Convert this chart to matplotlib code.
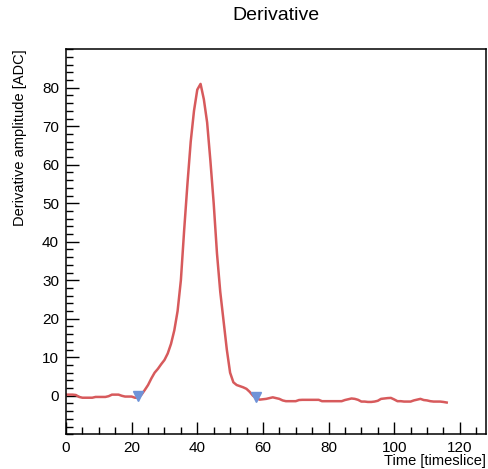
import numpy as np
import matplotlib
matplotlib.use("Agg")
import matplotlib.pyplot as plt
from matplotlib.ticker import MultipleLocator, FixedLocator

plt.rcParams["font.family"] = ["Liberation Sans", "DejaVu Sans"]

# derivative amplitude per timeslice (bins 0..116)
deriv = [
    0.3, 0.3, 0.3, 0.2, -0.3, -0.5, -0.5, -0.5, -0.5, -0.3,
    -0.3, -0.3, -0.3, -0.1, 0.3, 0.3, 0.3, 0.0, -0.2, -0.2,
    -0.2, -0.5, -0.5, 0.3, 1.5, 2.8, 4.5, 6.0, 7.0, 8.2,
    9.3, 11.0, 13.5, 17.0, 22.0, 30.0, 43.0, 55.0, 66.0, 74.0,
    79.5, 81.0, 77.0, 71.0, 61.0, 50.0, 37.0, 27.0, 19.5, 12.0,
    6.0, 3.5, 2.8, 2.5, 2.2, 1.8, 1.0, 0.0, -0.6, -1.0,
    -0.9, -0.8, -0.6, -0.4, -0.6, -0.8, -1.2, -1.4, -1.4, -1.4,
    -1.4, -1.1, -1.05, -1.05, -1.05, -1.05, -1.05, -1.05, -1.4, -1.4,
    -1.4, -1.4, -1.4, -1.4, -1.4, -1.1, -0.9, -0.7, -0.8, -1.05,
    -1.5, -1.5, -1.6, -1.6, -1.5, -1.3, -0.8, -0.7, -0.6, -0.55,
    -0.95, -1.4, -1.4, -1.5, -1.5, -1.5, -1.2, -1.0, -0.8, -1.1,
    -1.2, -1.4, -1.5, -1.5, -1.5, -1.6, -1.75,
]
time = np.arange(len(deriv))

# found start / end of the pulse
mark_t = [22, 58]
mark_y = [0.0, -0.3]

fig = plt.figure(figsize=(4.89, 4.69), dpi=100)
ax = fig.add_axes([0.135, 0.074, 0.859, 0.821])

ax.plot(time, deriv, color="#d75a5c", lw=1.8)
ax.plot(mark_t, mark_y, "v", color="#6f93d8", ms=7, zorder=3)

ax.set_xlim(0, 128)
ax.set_ylim(-10, 90)
ax.xaxis.set_major_locator(MultipleLocator(20))
ax.xaxis.set_minor_locator(MultipleLocator(5))
ax.yaxis.set_major_locator(FixedLocator(list(range(0, 81, 10))))
ax.yaxis.set_minor_locator(MultipleLocator(2))
ax.tick_params(which="both", direction="in", top=False, right=False,
               labelsize=11, width=1.0, color="black")
ax.tick_params(which="major", length=9, pad=5)
ax.tick_params(which="minor", length=5)
for s in ax.spines.values():
    s.set_linewidth(1.1)

ax.set_xlabel("Time [timeslice]", fontsize=10.5, ha="right")
ax.xaxis.set_label_coords(1.0, -0.052)
ax.set_ylabel("Derivative amplitude [ADC]", fontsize=10.5, ha="right")
ax.yaxis.set_label_coords(-0.094, 1.0)
fig.suptitle("Derivative", fontsize=14, x=0.564, y=0.985)

fig.savefig("out.png", dpi=100)
